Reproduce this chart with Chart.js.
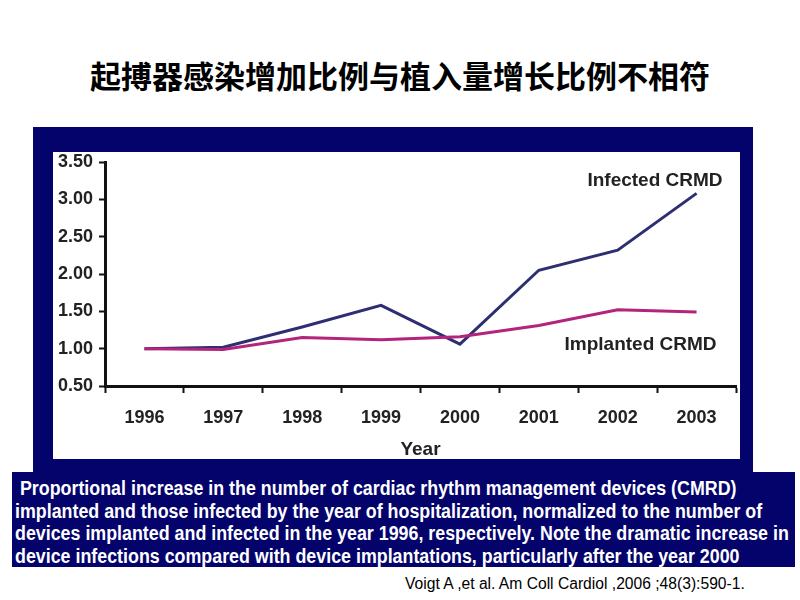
<!DOCTYPE html>
<html>
<head>
<meta charset="utf-8">
<script src="https://cdn.jsdelivr.net/npm/chart.js@4"></script>
<style>
  html, body { margin: 0; padding: 0; background: #fff; }
  body { width: 800px; height: 600px; position: relative; overflow: hidden; font-family: "Liberation Sans", Arial, sans-serif; }
  .title { position: absolute; left: 0; top: 55px; width: 800px; line-height: 40px; text-align: center; font-family: "Noto Sans CJK SC", sans-serif; font-weight: 700; font-size: 31px; color: #000; }
  .frame { position: absolute; left: 33px; top: 127px; width: 720px; height: 345px; background: #03036b; }
  .plot { position: absolute; left: 53px; top: 152px; width: 687px; height: 307px; background: #fff; }
  .caption { position: absolute; left: 12px; top: 472px; width: 783px; height: 95px; background: #03036b; overflow: hidden; }
  .caption-text { position: absolute; left: 3px; top: 5px; color: #fff; font-weight: 700; font-size: 20px; line-height: 22.5px; white-space: nowrap; transform-origin: 0 0; }
  .cite { position: absolute; left: 405px; top: 575px; font-size: 16px; color: #000; white-space: nowrap; transform-origin: 0 0; }
</style>
</head>
<body>
<div class="title">起搏器感染增加比例与植入量增长比例不相符</div>
<div class="frame"></div>
<div class="plot"><canvas id="chart" width="687" height="307"></canvas></div>
<div class="caption"><div class="caption-text" id="captionText">&nbsp;Proportional increase in the number of cardiac rhythm management devices (CMRD)<br>implanted and those infected by the year of hospitalization, normalized to the number of<br>devices implanted and infected in the year 1996, respectively. Note the dramatic increase in<br>device infections compared with device implantations, particularly after the year 2000</div></div>
<div class="cite" id="cite">Voigt A ,et al. Am Coll Cardiol ,2006 ;48(3):590-1.</div>
<script>
const years = ['1996', '1997', '1998', '1999', '2000', '2001', '2002', '2003'];
const infected = [1.00, 1.02, 1.29, 1.58, 1.06, 2.05, 2.32, 3.08];
const implanted = [1.00, 0.99, 1.15, 1.12, 1.16, 1.31, 1.52, 1.49];
const yTicks = [0.5, 1.0, 1.5, 2.0, 2.5, 3.0, 3.5];

// the source uses a narrow face; squeeze the regular one to the same width
const cap = document.getElementById('captionText');
cap.style.transform = 'scaleX(' + (774 / cap.scrollWidth) + ')';
const cite = document.getElementById('cite');
cite.style.transform = 'scaleX(' + (340 / cite.scrollWidth) + ')';

const labelFont = { family: '"Liberation Sans", Arial, sans-serif', size: 18, weight: 'bold' };

// series names written next to the lines
const seriesLabels = {
  id: 'seriesLabels',
  afterDatasetsDraw(chart) {
    const ctx = chart.ctx;
    const x = chart.scales.x;
    const y = chart.scales.y;
    ctx.save();
    ctx.fillStyle = '#222';
    ctx.font = 'bold 19px "Liberation Sans", Arial, sans-serif';
    ctx.textAlign = 'right';
    ctx.textBaseline = 'middle';
    const lastX = x.getPixelForValue(years.length - 1);
    ctx.fillText('Infected CRMD', lastX + 26, y.getPixelForValue(infected[infected.length - 1]) - 13);
    ctx.fillText('Implanted CRMD', lastX + 20, y.getPixelForValue(implanted[implanted.length - 1]) + 33);
    ctx.restore();
  }
};

new Chart(document.getElementById('chart'), {
  type: 'line',
  data: {
    labels: years,
    datasets: [
      {
        label: 'Implanted CRMD',
        data: implanted,
        borderColor: '#b3247c',
        borderWidth: 3,
        pointRadius: 0,
        tension: 0,
      },
      {
        label: 'Infected CRMD',
        data: infected,
        borderColor: '#2e2f72',
        borderWidth: 3,
        pointRadius: 0,
        tension: 0,
      },
    ],
  },
  options: {
    responsive: false,
    animation: false,
    layout: { padding: { top: 0, right: 4, left: 0, bottom: 0 } },
    plugins: {
      legend: { display: false },
      tooltip: { enabled: false },
    },
    scales: {
      x: {
        offset: true,
        afterFit(scale) { scale.height = 73; },
        border: { color: '#111', width: 3 },
        grid: { display: true, drawOnChartArea: false, drawTicks: true, tickLength: 7, tickWidth: 2, tickColor: '#111', offset: true },
        ticks: { color: '#222', font: labelFont, padding: 14, maxRotation: 0 },
        title: { display: true, text: 'Year', color: '#222', font: { family: '"Liberation Sans", Arial, sans-serif', size: 19, weight: 'bold', lineHeight: 1 }, padding: { top: 0, bottom: 0 } },
      },
      y: {
        min: 0.5,
        max: 3.5,
        afterFit(scale) { scale.width = 52; scale.paddingTop = 10; scale.paddingBottom = 0; },
        afterBuildTicks(scale) { scale.ticks = yTicks.map(v => ({ value: v })); },
        border: { color: '#111', width: 3 },
        grid: { display: true, drawOnChartArea: false, drawTicks: true, tickLength: 6, tickWidth: 2, tickColor: '#111' },
        ticks: { color: '#222', font: labelFont, padding: 6, callback: v => Number(v).toFixed(2) },
      },
    },
  },
  plugins: [seriesLabels],
});
</script>
</body>
</html>
